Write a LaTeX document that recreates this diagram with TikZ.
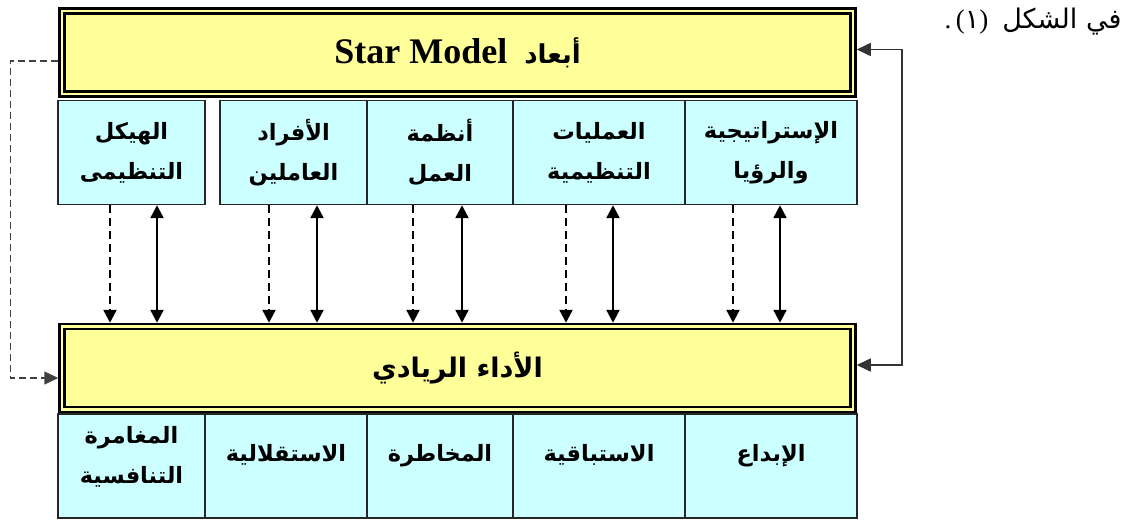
\documentclass[tikz,border=0pt]{standalone}
\usepackage{fontspec}
\setmainfont{Liberation Serif}
\newfontfamily\arabicfont[Script=Arabic]{DejaVu Sans}
\TeXXeTstate=1
\usetikzlibrary{arrows.meta}
\definecolor{dimyellow}{HTML}{FFFF99}
\definecolor{dimcyan}{HTML}{CCFFFF}
\newcommand{\ar}[1]{\beginR#1\endR}
\tikzset{
  headbox/.style={draw=black, line width=2.5pt, double=dimyellow, double distance=2.5pt,
    fill=dimyellow, minimum width=791pt, minimum height=83pt, outer sep=3.75pt, inner sep=0pt},
  dimbox/.style={draw=black!85, line width=1.4pt, fill=dimcyan, minimum height=104pt,
    align=center, inner sep=0pt, font=\arabicfont\bfseries\fontsize{22.5}{40}\selectfont},
  subbox/.style={dimbox, text depth=26pt},
  dashlink/.style={line width=2.4pt, dash pattern=on 8pt off 5pt, -{Triangle[length=13pt,width=13pt]}},
  bothlink/.style={line width=2.4pt, {Triangle[length=13pt,width=13pt]}-{Triangle[length=13pt,width=13pt]}}
}
\begin{document}
\begin{tikzpicture}[x=1pt,y=-1pt]
  \useasboundingbox (0,0) rectangle (1132,520);

  % note from the text
  \node (note) at (1033,22)
    {\fontsize{27}{30}\selectfont .\,({\arabicfont ١})\hspace{14pt}{\arabicfont\ar{في الشكل}}};

  % the two main bars
  \node[headbox] (star) at (457.5,52.5)
    {\bfseries\fontsize{36}{40}\selectfont Star Model\hspace{17pt}{\arabicfont\fontsize{26}{28}\selectfont\ar{أبعاد}}};
  \node[headbox] (perf) at (457.5,368)
    {\arabicfont\bfseries\fontsize{27}{30}\selectfont\ar{الأداء الريادي}};

  % dimensions of the star model
  \node[dimbox, minimum width=147pt] (b1) at (131.5,152.5) {\ar{الهيكل}\\\ar{التنظيمى}};
  \node[dimbox, minimum width=147pt] (b2) at (293.5,152.5) {\ar{الأفراد}\\\ar{العاملين}};
  \node[dimbox, minimum width=146pt] (b3) at (440,152.5) {\ar{أنظمة}\\\ar{العمل}};
  \node[dimbox, minimum width=172pt] (b4) at (599,152.5) {\ar{العمليات}\\\ar{التنظيمية}};
  \node[dimbox, minimum width=172pt] (b5) at (771,152.5) {\ar{الإستراتيجية}\\\ar{والرؤيا}};

  % dimensions of the performance
  \node[subbox, minimum width=147pt, text depth=22pt] (c1) at (131.5,466) {\ar{المغامرة}\\\ar{التنافسية}};
  \node[subbox, minimum width=162pt] (c2) at (286,466) {\ar{الاستقلالية}};
  \node[subbox, minimum width=146pt] (c3) at (440,466) {\ar{المخاطرة}};
  \node[subbox, minimum width=172pt] (c4) at (599,466) {\ar{الاستباقية}};
  \node[subbox, minimum width=172pt] (c5) at (771,466) {\ar{الإبداع}};

  % links between the bars
  \foreach \b/\dl/\sl in {b1/-21.5/25.5, b2/-24.5/23.5, b3/-27/22, b4/-33/14, b5/-38/9} {
    \draw[dashlink] ([xshift=\dl pt]\b.south) -- ([xshift=\dl pt]\b.south |- perf.north);
    \draw[bothlink] ([xshift=\sl pt]\b.south) -- ([xshift=\sl pt]\b.south |- perf.north);
  }

  % feedback loops
  \draw[black!80, line width=1.6pt, {Triangle[length=14pt,width=13pt]}-{Triangle[length=14pt,width=13pt]}]
    ([yshift=3pt]star.east) -- ++(45,0) |- ([yshift=3pt]perf.east);
  \draw[black!75, line width=1.5pt, dash pattern=on 7pt off 4pt, -{Triangle[length=14pt,width=13pt]}]
    ([yshift=-8.5pt]star.west) -- ++(-48,0) |- ([yshift=-10pt]perf.west);
\end{tikzpicture}
\end{document}
